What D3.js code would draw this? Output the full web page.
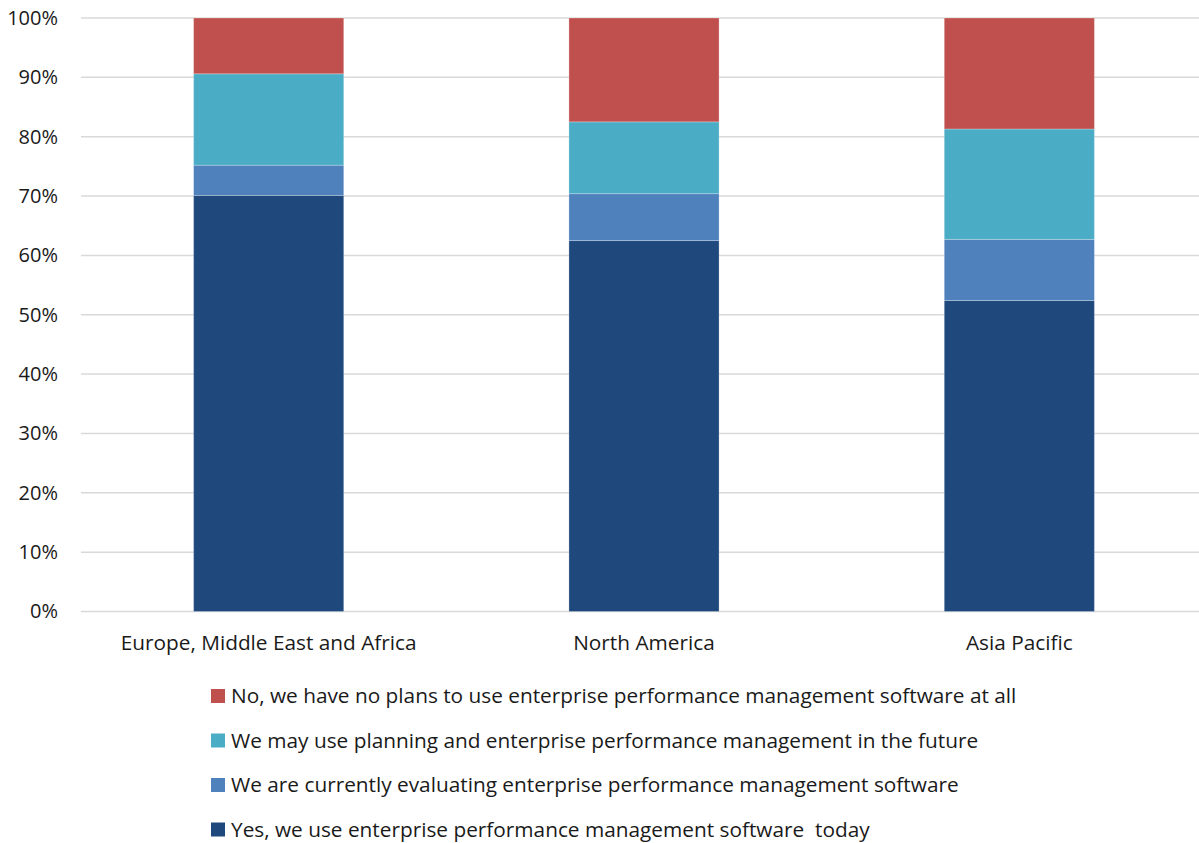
<!DOCTYPE html>
<html>
<head>
<meta charset="utf-8">
<script src="https://cdn.jsdelivr.net/npm/d3@7/dist/d3.min.js"></script>
<style>
  html, body { margin: 0; padding: 0; background: #fff; }
  svg { display: block; }
  text { font-family: "Open Sans", "Noto Sans", sans-serif; fill: #1a1a1a; white-space: pre; }
</style>
</head>
<body>
<svg id="chart" width="1199" height="843"></svg>
<script>
// Regions on the x axis
const regions = ["Europe, Middle East and Africa", "North America", "Asia Pacific"];

// Response shares (%) per region, bottom to top of each stack
const yesToday   = [70.1, 62.5, 52.4];
const evaluating = [5.1, 7.9, 10.3];
const mayFuture  = [15.4, 12.1, 18.6];
const noPlans    = [9.4, 17.5, 18.7];

const seriesNames = [
  "Yes, we use enterprise performance management software  today",
  "We are currently evaluating enterprise performance management software",
  "We may use planning and enterprise performance management in the future",
  "No, we have no plans to use enterprise performance management software at all"
];
const seriesColors = ["#1F497D", "#4F81BD", "#4BACC6", "#C0504D"];

const yTicks = [0, 10, 20, 30, 40, 50, 60, 70, 80, 90, 100];

const keys = ["yes", "eval", "may", "no"];
const rows = regions.map((r, i) => ({
  region: r, yes: yesToday[i], eval: evaluating[i], may: mayFuture[i], no: noPlans[i]
}));
const stacked = d3.stack().keys(keys)(rows);

const svg = d3.select("#chart");
const plotLeft = 81, plotRight = 1207, plotTop = 18, plotBottom = 611.5;
const fontSize = "20.8px";

const x = d3.scaleBand().domain(regions).range([plotLeft, plotRight]).paddingInner(0.6).paddingOuter(0.3);
const y = d3.scaleLinear().domain([0, 100]).range([plotBottom, plotTop]);

// Horizontal gridlines
svg.append("g").selectAll("line").data(yTicks).join("line")
  .attr("x1", plotLeft).attr("x2", 1199)
  .attr("y1", d => y(d)).attr("y2", d => y(d))
  .attr("stroke", "#d9d9d9").attr("stroke-width", 1.5);

// Y axis labels
const yAxis = svg.append("g").attr("transform", `translate(${plotLeft},0)`)
  .call(d3.axisLeft(y).tickValues(yTicks).tickFormat(d => d + "%").tickSize(0).tickPadding(23));
yAxis.select(".domain").remove();
yAxis.selectAll("text").style("font-size", "20px").attr("fill", "#1a1a1a")
  .style("font-family", "'Open Sans', sans-serif");

// Stacked bars
svg.append("g").selectAll("g").data(stacked).join("g")
  .attr("fill", (d, i) => seriesColors[i])
  .selectAll("rect").data(d => d).join("rect")
  .attr("x", d => x(d.data.region))
  .attr("width", x.bandwidth())
  .attr("y", d => y(d[1]))
  .attr("height", d => y(d[0]) - y(d[1]))
  .attr("stroke", "rgba(255,255,255,0.25)").attr("stroke-width", 1);

// X axis labels
const xAxis = svg.append("g").attr("transform", `translate(0,${plotBottom})`)
  .call(d3.axisBottom(x).tickSize(0).tickPadding(24));
xAxis.select(".domain").remove();
xAxis.selectAll("text").style("font-size", fontSize).attr("fill", "#1a1a1a")
  .style("font-family", "'Open Sans', sans-serif");

// Legend, top entry is the top series
const legendOrder = [3, 2, 1, 0];
const legend = svg.append("g").selectAll("g").data(legendOrder).join("g")
  .attr("transform", (d, i) => `translate(211,${696 + i * 44.5})`);
legend.append("rect").attr("x", 0).attr("y", -7).attr("width", 14).attr("height", 14)
  .attr("fill", d => seriesColors[d]);
legend.append("text").attr("x", 20).attr("y", 0).attr("dy", "0.35em")
  .style("font-size", fontSize).text(d => seriesNames[d]);
</script>
</body>
</html>
